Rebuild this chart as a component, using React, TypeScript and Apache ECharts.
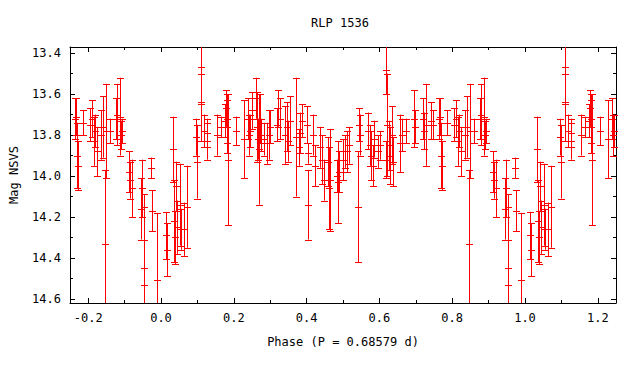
import React, { useEffect, useRef } from "react";
import * as echarts from "echarts";

// Base observations (phase in [0,1), magnitude, error)
const phases = [
  0.015, 0.016, 0.034, 0.036, 0.038, 0.041, 0.043, 0.051, 0.055, 0.063, 0.071,
  0.096, 0.098, 0.110, 0.111, 0.118, 0.125, 0.127, 0.155, 0.164, 0.176, 0.178,
  0.180, 0.182, 0.184, 0.205, 0.228, 0.239, 0.242, 0.245, 0.250, 0.262, 0.265,
  0.267, 0.268, 0.272, 0.274, 0.283, 0.290, 0.296, 0.300, 0.318, 0.322, 0.327,
  0.341, 0.345, 0.350, 0.354, 0.370, 0.378, 0.383, 0.388, 0.402, 0.404, 0.405,
  0.418, 0.424, 0.437, 0.443, 0.448, 0.459, 0.461, 0.465, 0.483, 0.487, 0.490,
  0.500, 0.505, 0.512, 0.516, 0.541, 0.545, 0.547, 0.568, 0.575, 0.578, 0.582,
  0.586, 0.597, 0.601, 0.617, 0.619, 0.620, 0.626, 0.630, 0.634, 0.638, 0.657,
  0.662, 0.672, 0.694, 0.698, 0.719, 0.722, 0.727, 0.742, 0.746, 0.764, 0.767,
  0.770, 0.772, 0.785, 0.806, 0.810, 0.815, 0.820, 0.825, 0.836, 0.842, 0.846,
  0.848, 0.860, 0.877, 0.880, 0.888, 0.889, 0.893, 0.913, 0.916, 0.921, 0.945,
  0.948, 0.952, 0.953, 0.972, 0.975, 0.988,
];
const mags = [
  14.29, 14.36, 13.87, 14.22, 14.30, 14.05, 14.25, 14.14, 14.26, 14.26, 14.15,
  13.81, 13.93, 13.50, 13.65, 13.78, 13.79, 13.83, 13.80, 13.76, 13.73, 13.67,
  13.76, 13.72, 13.92, 13.78, 13.82, 13.72, 13.80, 13.78, 13.68, 13.62, 13.76,
  13.82, 13.87, 13.72, 13.80, 13.82, 13.84, 13.80, 13.76, 13.75, 13.67, 13.72,
  13.80, 13.76, 13.83, 13.73, 13.81, 13.86, 13.79, 13.73, 13.75, 13.89, 14.14,
  13.80, 13.95, 13.86, 13.92, 14.02, 13.93, 14.06, 14.02, 14.00, 14.03, 13.98,
  13.92, 13.88, 13.88, 13.85, 14.15, 13.75, 13.80, 13.78, 13.85, 13.90, 13.95,
  13.82, 13.88, 13.85, 13.48, 13.92, 13.75, 13.85, 13.90, 13.80, 13.93, 13.84,
  13.80, 13.78, 13.72, 13.76, 13.72, 13.78, 13.75, 13.73, 13.75, 13.72, 13.71,
  13.90, 13.95, 13.74, 13.75, 13.72, 13.83, 13.78, 13.88, 13.80, 13.76, 14.33,
  13.78, 13.78, 13.72, 13.70, 13.71, 13.80, 13.78, 13.98, 14.02, 14.06, 14.16,
  14.06, 14.31, 14.45, 13.96, 14.17, 14.51,
];
const errs = [
  0.115, 0.13, 0.16, 0.20, 0.13, 0.12, 0.13, 0.20, 0.10, 0.13, 0.20,
  0.09, 0.18, 0.14, 0.18, 0.08, 0.07, 0.09, 0.10, 0.05, 0.08, 0.09,
  0.13, 0.12, 0.32, 0.07, 0.19, 0.10, 0.10, 0.08, 0.09, 0.10, 0.17,
  0.10, 0.27, 0.12, 0.08, 0.08, 0.10, 0.12, 0.08, 0.08, 0.09, 0.10,
  0.14, 0.12, 0.10, 0.12, 0.29, 0.09, 0.10, 0.08, 0.09, 0.05, 0.17,
  0.10, 0.10, 0.10, 0.12, 0.10, 0.12, 0.20, 0.25, 0.08, 0.20, 0.10,
  0.10, 0.08, 0.10, 0.09, 0.27, 0.08, 0.10, 0.09, 0.10, 0.12, 0.10,
  0.09, 0.08, 0.07, 0.12, 0.09, 0.25, 0.12, 0.14, 0.14, 0.12, 0.14,
  0.08, 0.06, 0.14, 0.08, 0.10, 0.09, 0.20, 0.09, 0.07, 0.10, 0.09,
  0.16, 0.12, 0.06, 0.08, 0.09, 0.12, 0.08, 0.12, 0.12, 0.15, 0.36,
  0.23, 0.06, 0.10, 0.15, 0.19, 0.07, 0.06, 0.10, 0.09, 0.14, 0.15,
  0.14, 0.22, 0.30, 0.05, 0.10, 0.33,
];

const xMajor = [-0.2, 0.0, 0.2, 0.4, 0.6, 0.8, 1.0, 1.2];
const xMinor = [-0.1, 0.1, 0.3, 0.5, 0.7, 0.9, 1.1];
const yMajor = [13.4, 13.6, 13.8, 14.0, 14.2, 14.4, 14.6];
const yMinor = [13.5, 13.7, 13.9, 14.1, 14.3, 14.5];

const TITLE = "RLP 1536";
const X_NAME = "Phase (P = 0.68579 d)";
const Y_NAME = "Mag NSVS";

const FONT = "DejaVu Sans Mono";
const RED = "#ff0000";

export default function App() {
  const ref = useRef<HTMLDivElement>(null);

  useEffect(() => {
    if (!ref.current) return;
    const chart = echarts.init(ref.current, null, { renderer: "svg" });

    // phase-folded data shown over -0.25..1.25 (each observation repeated one cycle away)
    const data: number[][] = [];
    for (let i = 0; i < phases.length; i++) {
      const p = phases[i];
      data.push([p, mags[i], errs[i]]);
      if (p >= 0.75) data.push([p - 1, mags[i], errs[i]]);
      if (p < 0.25) data.push([p + 1, mags[i], errs[i]]);
    }

    const textStyle = { fontFamily: FONT, fontSize: 12, color: "#000" };
    const line = { color: "#000", width: 1 };

    const xAxisBase = (position: string, ticks: number[], len: number, labels: boolean, showLine: boolean) => ({
      type: "value",
      min: -0.25,
      max: 1.25,
      position,
      axisLine: { show: showLine, onZero: false, lineStyle: line },
      axisTick: { show: true, inside: true, length: len, customValues: ticks, lineStyle: line },
      axisLabel: labels
        ? { show: true, customValues: ticks, formatter: (v: number) => v.toFixed(1), margin: 9, ...textStyle }
        : { show: false },
      splitLine: { show: false },
    });
    const yAxisBase = (position: string, ticks: number[], len: number, labels: boolean, showLine: boolean) => ({
      type: "value",
      min: 13.37,
      max: 14.62,
      inverse: true,
      position,
      axisLine: { show: showLine, onZero: false, lineStyle: line },
      axisTick: { show: true, inside: true, length: len, customValues: ticks, lineStyle: line },
      axisLabel: labels
        ? { show: true, customValues: ticks, formatter: (v: number) => v.toFixed(1), margin: 9, ...textStyle }
        : { show: false },
      splitLine: { show: false },
    });

    chart.setOption({
      animation: false,
      backgroundColor: "#fff",
      grid: { left: 64, right: 24, top: 47, bottom: 81, containLabel: false },
      graphic: [
        {
          type: "text",
          x: 340,
          y: 23,
          style: {
            text: TITLE,
            fontFamily: FONT,
            fontSize: 12,
            fill: "#000",
            textAlign: "center",
            textVerticalAlign: "middle",
          },
        },
      ],
      xAxis: [
        {
          ...xAxisBase("bottom", xMajor, 5, true, true),
          name: X_NAME,
          nameLocation: "middle",
          nameGap: 33,
          nameTextStyle: textStyle,
        },
        xAxisBase("bottom", xMinor, 3, false, false),
        xAxisBase("top", xMajor, 5, false, true),
        xAxisBase("top", xMinor, 3, false, false),
      ],
      yAxis: [
        {
          ...yAxisBase("left", yMajor, 5, true, true),
          name: Y_NAME,
          nameLocation: "middle",
          nameGap: 50,
          nameTextStyle: textStyle,
        },
        yAxisBase("left", yMinor, 3, false, false),
        yAxisBase("right", yMajor, 5, false, true),
        yAxisBase("right", yMinor, 3, false, false),
      ],
      series: [
        {
          type: "custom",
          xAxisIndex: 0,
          yAxisIndex: 0,
          encode: { x: 0, y: 1 },
          data,
          renderItem: (params: any, api: any) => {
            const x = api.value(0);
            const m = api.value(1);
            const e = api.value(2);
            const cs = params.coordSys;
            const c = api.coord([x, m]);
            const a = api.coord([x, m - e]);
            const b = api.coord([x, m + e]);
            const px = Math.round(c[0]) + 0.5;
            const yMin = cs.y;
            const yMax = cs.y + cs.height;
            const top = Math.max(Math.min(a[1], b[1]), yMin);
            const bot = Math.min(Math.max(a[1], b[1]), yMax);
            const style = { stroke: RED, lineWidth: 1, fill: null };
            const children: any[] = [];
            if (bot > top) {
              children.push({ type: "line", shape: { x1: px, y1: top, x2: px, y2: bot }, style });
            }
            const cap = 3.5;
            for (const yy of [a[1], b[1], c[1]]) {
              if (yy >= yMin && yy <= yMax) {
                const ry = Math.round(yy) + 0.5;
                children.push({ type: "line", shape: { x1: px - cap, y1: ry, x2: px + cap, y2: ry }, style });
              }
            }
            return { type: "group", children };
          },
        },
      ],
    });

    return () => chart.dispose();
  }, []);

  return (
    <div
      ref={ref}
      style={{ position: "absolute", left: 0, top: 0, width: 640, height: 384, background: "#fff" }}
    />
  );
}
